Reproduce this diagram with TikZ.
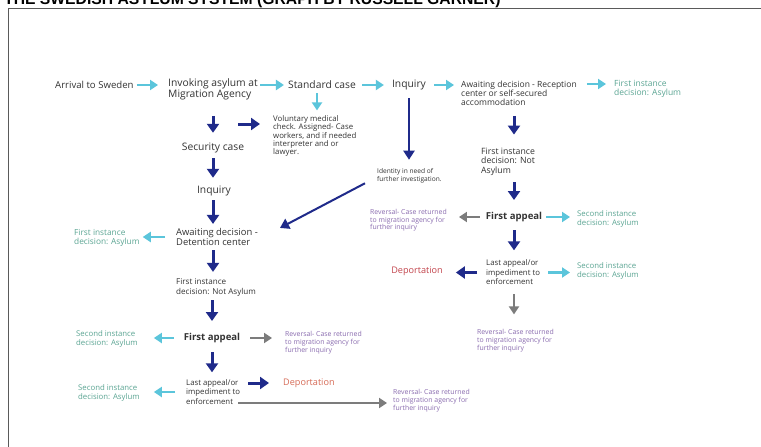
\documentclass[tikz,border=0pt]{standalone}
\usepackage{fontspec}
\setmainfont{Open Sans}
\newfontfamily\titlefont{Liberation Sans}
\usetikzlibrary{arrows.meta}
\definecolor{navy}{HTML}{1F2A8A}
\definecolor{cyanarr}{HTML}{5BC5DB}
\definecolor{grayarr}{HTML}{7C7C7C}
\definecolor{tealtext}{HTML}{5BA593}
\definecolor{purptext}{HTML}{8B6DB0}
\definecolor{deptext}{HTML}{C2434B}
\definecolor{deptexttwo}{HTML}{D66A55}
\definecolor{bodytext}{HTML}{333333}
\definecolor{framecol}{HTML}{5A5A5A}
\tikzset{
  lbl/.style={inner sep=0pt, align=left, text=bodytext},
  bigtxt/.style={lbl, font=\fontsize{10.3}{11}\selectfont},
  midtxt/.style={lbl, font=\fontsize{8.5}{9.5}\selectfont},
  smalltxt/.style={lbl, font=\fontsize{7.8}{9.5}\selectfont},
  vsmall/.style={lbl, font=\fontsize{7.8}{7.5}\selectfont},
  tinytxt/.style={lbl, font=\fontsize{6.6}{7.5}\selectfont},
  tealtxt/.style={lbl, text=tealtext, font=\fontsize{7.8}{9}\selectfont},
  purptxt/.style={lbl, text=purptext, font=\fontsize{6.9}{8}\selectfont},
  appeal/.style={lbl, font=\bfseries\fontsize{9.6}{11}\selectfont},
  deptxt/.style={lbl, text=deptext, font=\fontsize{9.1}{11}\selectfont},
  navyarr/.style={draw=navy, line width=3pt, -{Triangle[length=9pt,width=12pt]}},
  navythin/.style={draw=navy, line width=2pt, -{Triangle[length=9pt,width=11pt]}},
  cyarr/.style={draw=cyanarr, line width=2.5pt, -{Triangle[length=8pt,width=10pt]}},
  grarr/.style={draw=grayarr, line width=2.5pt, -{Triangle[length=8pt,width=10pt]}},
  frame/.style={draw=framecol, line width=1pt}
}
\begin{document}
\begin{tikzpicture}[x=1pt,y=-1pt]
\useasboundingbox (0,0) rectangle (761,447);
\fill[white] (0,0) rectangle (761,447);
\begin{scope}
\clip (0,0) rectangle (761,447);
\node[anchor=base west, inner sep=0pt, text=black, font=\titlefont\bfseries\fontsize{15.7}{16}\selectfont] (title) at (4,5) {THE SWEDISH ASYLUM SYSTEM (GRAPH BY RUSSELL GARNER)};
\end{scope}
\draw[frame] (761,8) -- (8,8) -- (8,447);

% row 1
\node[bigtxt, anchor=west, font=\fontsize{9.6}{11}\selectfont] (arr) at (55,85) {Arrival to Sweden};
\node[bigtxt, anchor=west] (inv) at (168,89.5) {Invoking asylum at\\Migration Agency};
\node[bigtxt] (std) at (322,85) {Standard case};
\node[bigtxt] (inq) at (409,85) {Inquiry};
\node[midtxt, anchor=west, font=\fontsize{8.5}{9}\selectfont] (aw1) at (461,93) {Awaiting decision - Reception\\center or self-secured\\accommodation};
\node[tealtxt, anchor=west, font=\fontsize{8.5}{9}\selectfont] (fia1) at (614,88.5) {First instance\\decision: Asylum};
\node[vsmall, anchor=west] (vol) at (273,136) {Voluntary medical\\check. Assigned- Case\\workers, and if needed\\interpreter and or\\lawyer.};

% left column
\node[bigtxt] (sec) at (213,148) {Security case};
\node[bigtxt] (inq2) at (214,191) {Inquiry};
\node[midtxt, anchor=west, font=\fontsize{9.4}{10.5}\selectfont] (det) at (176,237) {Awaiting decision -\\Detention center};
\node[tealtxt, anchor=west, font=\fontsize{8.3}{9.5}\selectfont] (fia2) at (74,238) {First instance\\decision: Asylum};
\node[midtxt, anchor=west, font=\fontsize{8.1}{10}\selectfont] (fin2) at (176,287) {First instance\\decision: Not Asylum};
\node[appeal] (fa2) at (212,338) {First appeal};
\node[tealtxt, anchor=west] (sia2) at (76,339) {Second instance\\decision: Asylum};
\node[purptxt, anchor=west] (rev2) at (285,342.5) {Reversal- Case returned\\to migration agency for\\further inquiry};
\node[smalltxt, anchor=west] (la2) at (186,392) {Last appeal/or\\impediment to\\enforcement};
\node[deptxt, anchor=west, text=deptexttwo] (dep2) at (283,383) {Deportation};
\node[tealtxt, anchor=west] (sia3) at (78,392.5) {Second instance\\decision: Asylum};
\node[purptxt, anchor=west] (rev3) at (393,401) {Reversal- Case returned\\to migration agency for\\further inquiry};

% middle / right column
\node[tinytxt, anchor=west] (idn) at (377,176) {Identity in need of\\further investigation.};
\node[midtxt, anchor=west, font=\fontsize{8.7}{9.5}\selectfont] (fin1) at (481,161.5) {First instance\\decision: Not\\Asylum};
\node[appeal] (fa1) at (514,217) {First appeal};
\node[purptxt, anchor=west, font=\fontsize{6.9}{7.5}\selectfont] (rev1) at (370,220.5) {Reversal- Case returned\\to migration agency for\\further inquiry};
\node[tealtxt, anchor=west] (sia1) at (577,219) {Second instance\\decision: Asylum};
\node[smalltxt, anchor=west] (la1) at (486,272.5) {Last appeal/or\\impediment to\\enforcement};
\node[deptxt] (dep1) at (417,271) {Deportation};
\node[tealtxt, anchor=west] (sia1b) at (577,270.5) {Second instance\\decision: Asylum};
\node[purptxt, anchor=west] (rev4) at (477,341) {Reversal- Case returned\\to migration agency for\\further inquiry};

\coordinate (vchk) at (238,124);

% row 1 arrows
\draw[cyarr, shorten <=3pt, shorten >=10pt] (arr.east) -- (arr.east -| inv.west);
\draw[cyarr, shorten <=2pt, shorten >=4pt] (std.west -| inv.east) -- (std.west);
\draw[cyarr, shorten <=6pt, shorten >=8pt] (std.east) -- (inq.west);
\draw[cyarr, shorten <=8pt, shorten >=7pt] (inq.east) -- (inq.east -| aw1.west);
\draw[cyarr, shorten <=10pt, shorten >=8pt] ([yshift=9pt]aw1.east) -- ([yshift=9pt]aw1.east -| fia1.west);
\draw[cyarr, shorten <=4pt, shorten >=4.5pt] ([xshift=-5pt]std.south) -- ([xshift=-5pt]std.south |- vol.north);

% left column arrows
\draw[navyarr, shorten <=15.5pt, shorten >=10pt] (sec.north |- inv.south) -- (sec.north);
\draw[navyarr, shorten >=13pt] (vchk) -- (vchk -| vol.west);
\draw[navyarr, shorten <=5pt, shorten >=8pt] (sec.south) -- (sec.south |- inq2.north);
\draw[navyarr, shorten <=4pt, shorten >=4pt] (inq2.south -| sec.south) -- (det.north -| sec.south);
\draw[cyarr, shorten <=11pt, shorten >=3pt] (det.west) -- (det.west -| fia2.east);
\draw[navyarr, shorten <=4pt, shorten >=6pt] (det.south -| sec.south) -- (fin2.north -| sec.south);
\draw[navyarr, shorten <=4pt, shorten >=12pt] (fin2.south -| fa2.north) -- (fa2.north);
\draw[cyarr, shorten <=10pt, shorten >=16pt] (fa2.west) -- (fa2.west -| sia2.east);
\draw[grarr, shorten <=10pt, shorten >=13pt] (fa2.east) -- (fa2.east -| rev2.west);
\draw[navyarr, shorten <=9pt, shorten >=7pt] (fa2.south) -- (fa2.south |- la2.north);
\draw[navyarr, shorten <=8pt, shorten >=14pt] ([yshift=9pt]la2.east) -- ([yshift=9pt]la2.east -| dep2.west);
\draw[cyarr, shorten <=11pt, shorten >=14pt] (la2.west) -- (la2.west -| sia3.east);
\draw[grarr, shorten <=-2pt, shorten >=6pt] ([yshift=-11pt]la2.east) -- ([yshift=-11pt]la2.east -| rev3.west);

% middle arrows
\draw[navythin, shorten <=8pt, shorten >=9pt] (inq.south) -- (inq.south |- idn.north);
\draw[navythin] ([xshift=-12pt]idn.south west) -- ([xshift=22pt]det.north east);

% right column arrows
\draw[navyarr, shorten <=10.5pt, shorten >=13pt] (aw1.south -| fa1.north) -- (fin1.north -| fa1.north);
\draw[navyarr, shorten <=7pt, shorten >=12pt] (fin1.south -| fa1.north) -- (fa1.north);
\draw[grarr, shorten <=6pt, shorten >=12pt] (fa1.west) -- (fa1.west -| rev1.east);
\draw[cyarr, shorten <=4pt, shorten >=7pt] (fa1.east) -- (fa1.east -| sia1.west);
\draw[navyarr, shorten <=8pt, shorten >=9.5pt] (fa1.south) -- (fa1.south |- la1.north);
\draw[navyarr, shorten <=9pt, shorten >=13pt] (la1.west) -- (la1.west -| dep1.east);
\draw[cyarr, shorten <=8pt, shorten >=7pt] (la1.east) -- (la1.east -| sia1b.west);
\draw[grarr, shorten <=9pt, shorten >=15pt] (la1.south -| fa1.south) -- (rev4.north -| fa1.south);
\end{tikzpicture}
\end{document}
